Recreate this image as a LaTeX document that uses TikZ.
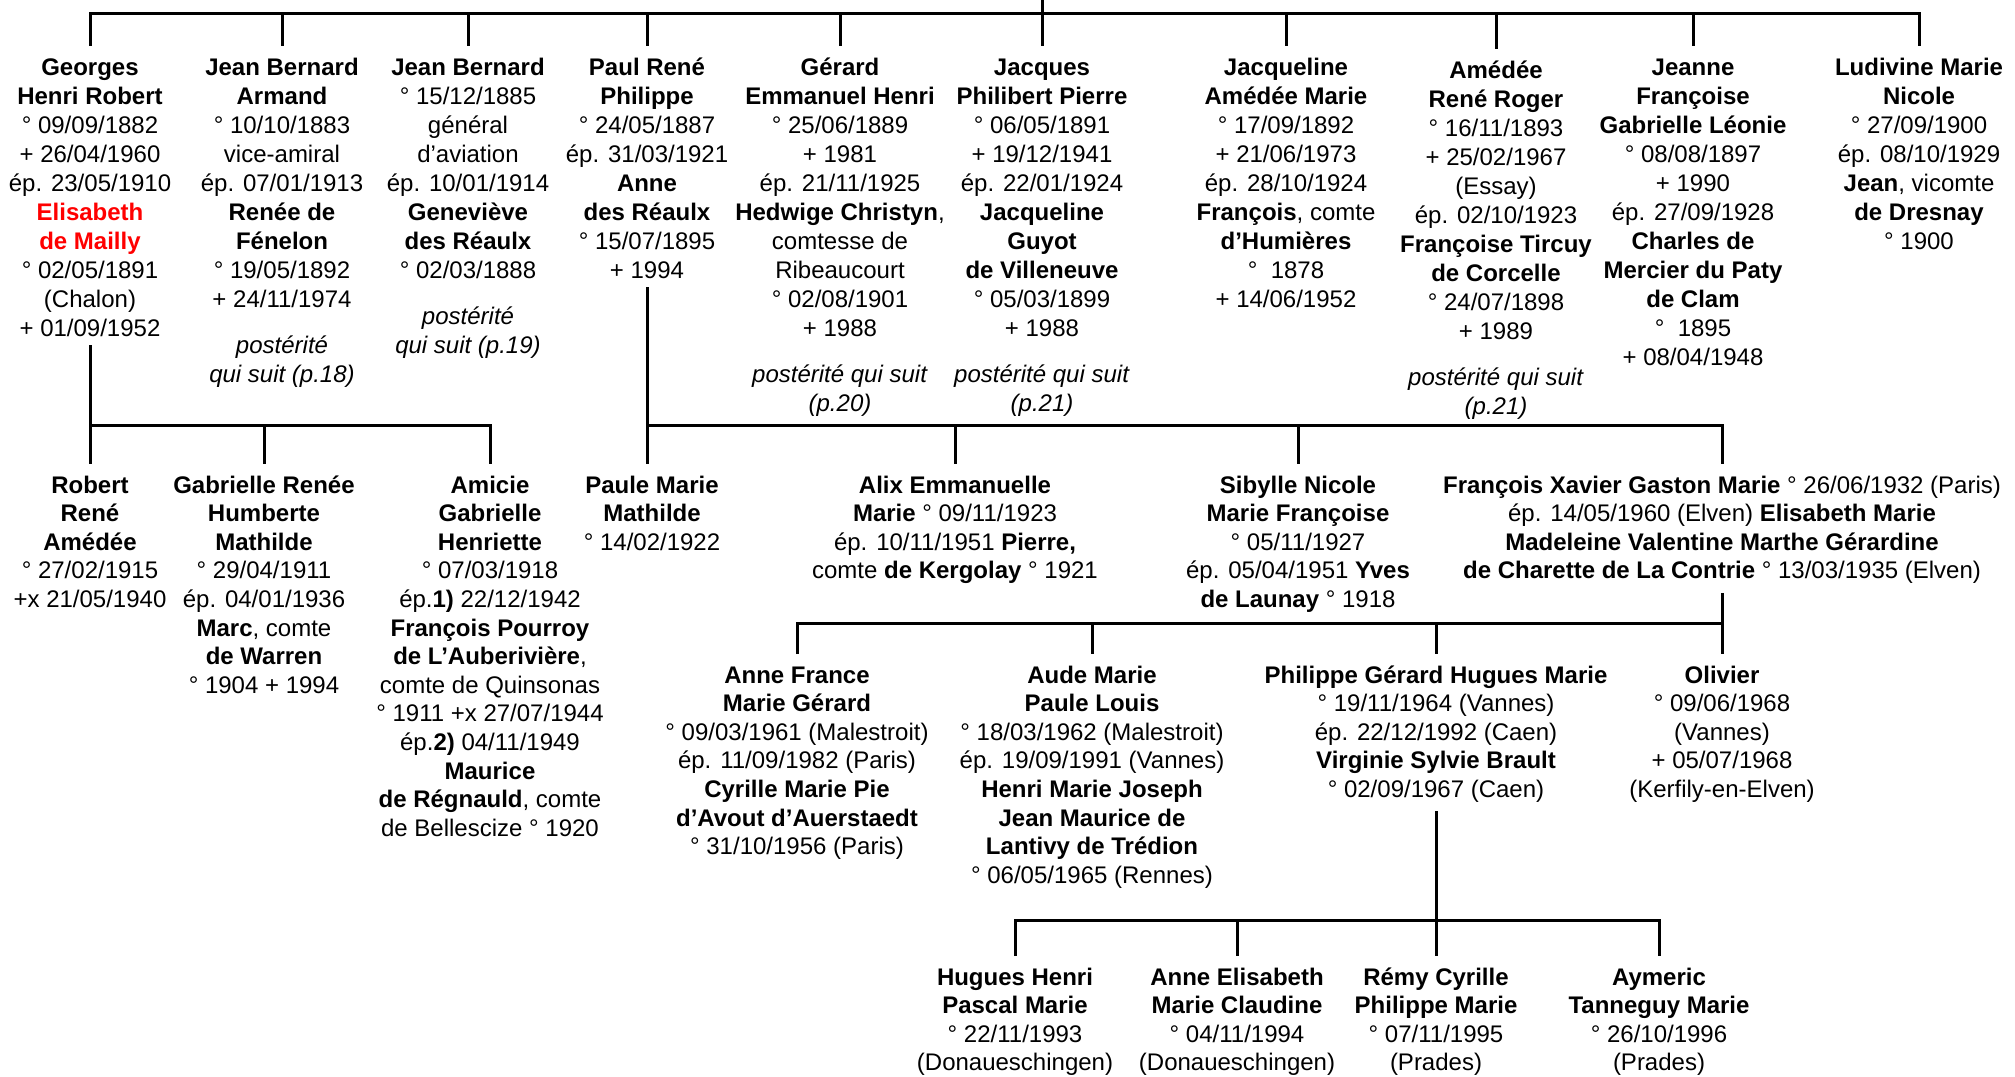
\documentclass[tikz,border=0pt]{standalone}
\usepackage{fontspec}
\setmainfont{Liberation Sans}
\usepackage{xcolor}
\usepackage{tikz}
\usetikzlibrary{positioning}

\begin{document}
\begin{tikzpicture}[
    x=1pt, y=-1pt,
    person/.style={anchor=north, align=center, inner sep=0pt, outer ysep=9pt, font=\fontsize{24}{29}\selectfont},
    child/.style={person, font=\fontsize{24}{28.6}\selectfont},
    link/.style={line width=3pt}
]
    \useasboundingbox (0,0) rectangle (2015,1076);

    % first generation
    \node[person] (georges) at (90,45.7) {\strut\textbf{Georges}\\\textbf{Henri Robert}\\° 09/09/1882\\+ 26/04/1960\\ép. 23/05/1910\\\textcolor{red}{\textbf{Elisabeth}}\\\textcolor{red}{\textbf{de Mailly}}\\° 02/05/1891\\(Chalon)\\+ 01/09/1952};
    \node[person] (armand) at (282,45.7) {\strut\textbf{Jean Bernard}\\\textbf{Armand}\\° 10/10/1883\\vice-amiral\\ép. 07/01/1913\\\textbf{Renée de}\\\textbf{Fénelon}\\° 19/05/1892\\+ 24/11/1974\\[17pt]\textit{postérité}\\\textit{qui suit (p.18)}};
    \node[person] (jeanbernard) at (468,45.7) {\strut\textbf{Jean Bernard}\\° 15/12/1885\\général\\d’aviation\\ép. 10/01/1914\\\textbf{Geneviève}\\\textbf{des Réaulx}\\° 02/03/1888\\[17pt]\textit{postérité}\\\textit{qui suit (p.19)}};
    \node[person] (paul) at (647,45.7) {\strut\textbf{Paul René}\\\textbf{Philippe}\\° 24/05/1887\\ép. 31/03/1921\\\textbf{Anne}\\\textbf{des Réaulx}\\° 15/07/1895\\+ 1994};
    \node[person] (gerard) at (840,45.7) {\strut\textbf{Gérard}\\\textbf{Emmanuel Henri}\\° 25/06/1889\\+ 1981\\ép. 21/11/1925\\\textbf{Hedwige Christyn},\\comtesse de\\Ribeaucourt\\° 02/08/1901\\+ 1988\\[17pt]\textit{postérité qui suit}\\\textit{(p.20)}};
    \node[person] (jacques) at (1042,45.7) {\strut\textbf{Jacques}\\\textbf{Philibert Pierre}\\° 06/05/1891\\+ 19/12/1941\\ép. 22/01/1924\\\textbf{Jacqueline}\\\textbf{Guyot}\\\textbf{de Villeneuve}\\° 05/03/1899\\+ 1988\\[17pt]\textit{postérité qui suit}\\\textit{(p.21)}};
    \node[person] (jacqueline) at (1286,45.7) {\strut\textbf{Jacqueline}\\\textbf{Amédée Marie}\\° 17/09/1892\\+ 21/06/1973\\ép. 28/10/1924\\\textbf{François}, comte\\\textbf{d’Humières}\\°\ \ 1878\\+ 14/06/1952};
    \node[person] (amedee) at (1496,48.7) {\strut\textbf{Amédée}\\\textbf{René Roger}\\° 16/11/1893\\+ 25/02/1967\\(Essay)\\ép. 02/10/1923\\\textbf{Françoise Tircuy}\\\textbf{de Corcelle}\\° 24/07/1898\\+ 1989\\[17pt]\textit{postérité qui suit}\\\textit{(p.21)}};
    \node[person] (jeanne) at (1693,45.7) {\strut\textbf{Jeanne}\\\textbf{Françoise}\\\textbf{Gabrielle Léonie}\\° 08/08/1897\\+ 1990\\ép. 27/09/1928\\\textbf{Charles de}\\\textbf{Mercier du Paty}\\\textbf{de Clam}\\°\ \ 1895\\+ 08/04/1948};
    \node[person] (ludivine) at (1919,45.7) {\strut\textbf{Ludivine Marie}\\\textbf{Nicole}\\° 27/09/1900\\ép. 08/10/1929\\\textbf{Jean}, vicomte\\\textbf{de Dresnay}\\° 1900};

    % second generation
    \node[child] (robert) at (90,464) {\strut\textbf{Robert}\\\textbf{René}\\\textbf{Amédée}\\° 27/02/1915\\+x 21/05/1940};
    \node[child] (gabrielle) at (264,464) {\strut\textbf{Gabrielle Renée}\\\textbf{Humberte}\\\textbf{Mathilde}\\° 29/04/1911\\ép. 04/01/1936\\\textbf{Marc}, comte\\\textbf{de Warren}\\° 1904 + 1994};
    \node[child] (amicie) at (490,464) {\strut\textbf{Amicie}\\\textbf{Gabrielle}\\\textbf{Henriette}\\° 07/03/1918\\ép.\textbf{1)} 22/12/1942\\\textbf{François Pourroy}\\\textbf{de L’Auberivière},\\comte de Quinsonas\\° 1911 +x 27/07/1944\\ép.\textbf{2)} 04/11/1949\\\textbf{Maurice}\\\textbf{de Régnauld}, comte\\de Bellescize ° 1920};
    \node[child] (paule) at (652,464) {\strut\textbf{Paule Marie}\\\textbf{Mathilde}\\° 14/02/1922};
    \node[child] (alix) at (955,464) {\strut\textbf{Alix Emmanuelle}\\\textbf{Marie} ° 09/11/1923\\ép. 10/11/1951 \textbf{Pierre,}\\comte \textbf{de Kergolay} ° 1921};
    \node[child] (sibylle) at (1298,464) {\strut\textbf{Sibylle Nicole}\\\textbf{Marie Françoise}\\° 05/11/1927\\ép. 05/04/1951 \textbf{Yves}\\\textbf{de Launay} ° 1918};
    \node[child] (francois) at (1722,464) {\strut\textbf{François Xavier Gaston Marie} ° 26/06/1932 (Paris)\\ép. 14/05/1960 (Elven) \textbf{Elisabeth Marie}\\\textbf{Madeleine Valentine Marthe Gérardine}\\\textbf{de Charette de La Contrie} ° 13/03/1935 (Elven)};

    % third generation
    \node[child] (annefrance) at (797,654) {\strut\textbf{Anne France}\\\textbf{Marie Gérard}\\° 09/03/1961 (Malestroit)\\ép. 11/09/1982 (Paris)\\\textbf{Cyrille Marie Pie}\\\textbf{d’Avout d’Auerstaedt}\\° 31/10/1956 (Paris)};
    \node[child] (aude) at (1092,654) {\strut\textbf{Aude Marie}\\\textbf{Paule Louis}\\° 18/03/1962 (Malestroit)\\ép. 19/09/1991 (Vannes)\\\textbf{Henri Marie Joseph}\\\textbf{Jean Maurice de}\\\textbf{Lantivy de Trédion}\\° 06/05/1965 (Rennes)};
    \node[child] (philippe) at (1436,654) {\strut\textbf{Philippe Gérard Hugues Marie}\\° 19/11/1964 (Vannes)\\ép. 22/12/1992 (Caen)\\\textbf{Virginie Sylvie Brault}\\° 02/09/1967 (Caen)};
    \node[child] (olivier) at (1722,654) {\strut\textbf{Olivier}\\° 09/06/1968\\(Vannes)\\+ 05/07/1968\\(Kerfily-en-Elven)};

    % fourth generation
    \node[child] (hugues) at (1015,956) {\strut\textbf{Hugues Henri}\\\textbf{Pascal Marie}\\° 22/11/1993\\(Donaueschingen)};
    \node[child] (anneelisabeth) at (1237,956) {\strut\textbf{Anne Elisabeth}\\\textbf{Marie Claudine}\\° 04/11/1994\\(Donaueschingen)};
    \node[child] (remy) at (1436,956) {\strut\textbf{Rémy Cyrille}\\\textbf{Philippe Marie}\\° 07/11/1995\\(Prades)};
    \node[child] (aymeric) at (1659,956) {\strut\textbf{Aymeric}\\\textbf{Tanneguy Marie}\\° 26/10/1996\\(Prades)};

    % connectors
    \coordinate (root) at (1042,0);
    \coordinate (bus0) at (1042,13);
    \coordinate (bus1) at (264,425);
    \coordinate (bus2) at (1000,425);
    \coordinate (bus3) at (1200,623);
    \coordinate (bus4) at (1300,920);

    \draw[link] (root) -- (jacques.north);
    \draw[link] (georges.north) |- (bus0) -| (ludivine.north);
    \foreach \n in {armand,jeanbernard,paul,gerard,jacqueline,amedee,jeanne}
        \draw[link] (\n.north |- bus0) -- (\n.north);

    \draw[link] (georges.south) -- (robert.north);
    \draw[link] (robert.north |- bus1) -| (amicie.north);
    \draw[link] (gabrielle.north |- bus1) -- (gabrielle.north);

    \draw[link] (paul.south) -- (paul.south |- paule.north);
    \draw[link] (paul.south |- bus2) -| (francois.north);
    \foreach \n in {alix,sibylle}
        \draw[link] (\n.north |- bus2) -- (\n.north);

    \draw[link] (francois.south) -- (olivier.north);
    \draw[link] (annefrance.north) |- (bus3) -| (olivier.north);
    \foreach \n in {aude,philippe}
        \draw[link] (\n.north |- bus3) -- (\n.north);

    \draw[link] (philippe.south) -- (remy.north);
    \draw[link] (hugues.north) |- (bus4) -| (aymeric.north);
    \draw[link] (anneelisabeth.north |- bus4) -- (anneelisabeth.north);
\end{tikzpicture}
\end{document}
